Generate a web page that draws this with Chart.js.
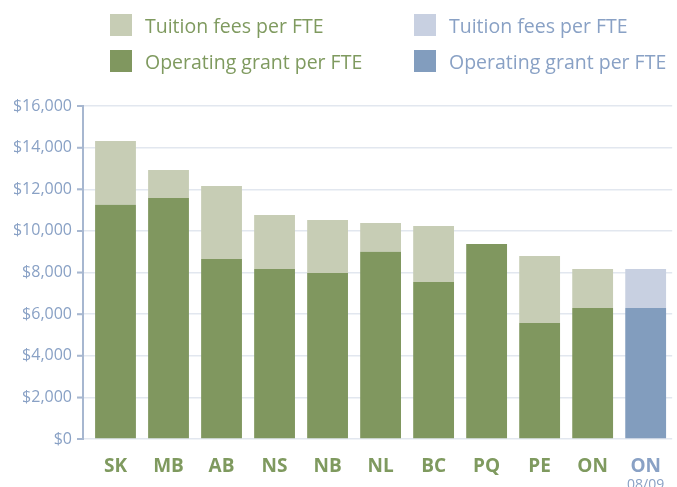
<!DOCTYPE html>
<html>
<head>
<meta charset="utf-8">
<script src="https://cdn.jsdelivr.net/npm/chart.js@4/dist/chart.umd.min.js"></script>
<style>
  html, body { margin: 0; padding: 0; background: #fff; }
  #wrap { position: relative; width: 677px; height: 487px; overflow: hidden; }
  #chart { position: absolute; left: 0; top: 0; }
  #legend {
    position: absolute; left: 110px; top: 14px;
    display: grid; grid-template-columns: 304px auto; row-gap: 14px;
    font-family: 'Open Sans', sans-serif; font-size: 19.5px;
  }
  .item { display: flex; align-items: center; height: 22px; white-space: nowrap; }
  .box { width: 22px; height: 22px; margin-right: 13px; flex: none; }
</style>
</head>
<body>
<div id="wrap">
  <canvas id="chart" width="677" height="487"></canvas>
  <div id="legend"></div>
</div>
<script>
// Data
const provinces = ['SK', 'MB', 'AB', 'NS', 'NB', 'NL', 'BC', 'PQ', 'PE', 'ON', 'ON'];
const lastNote = '08/09';
const grantPerFte   = [11250, 11580, 8650, 8170, 7980, 9000, 7540, 9370, 5570, 6300, 6300];
const tuitionPerFte = [3070, 1350, 3510, 2590, 2540, 1380, 2700, 0, 3220, 1870, 1870];
const yMin = 0, yMax = 16000, yStep = 2000;

const GREEN = '#80975f', GREEN_LIGHT = '#c7cdb5';
const BLUE = '#829dbe', BLUE_LIGHT = '#c8d0e1';
const GREEN_TEXT = '#7f9a5f', BLUE_TEXT = '#89a1c5';
const AXIS = '#a7b7d0', GRID = '#e2e7ef';

const lastIdx = provinces.length - 1;
const onlyGreen = arr => arr.map((v, i) => i === lastIdx ? null : v);
const onlyBlue = arr => arr.map((v, i) => i === lastIdx ? v : null);

const datasets = [
  { label: 'Operating grant per FTE', data: onlyGreen(grantPerFte), backgroundColor: GREEN, textColor: GREEN_TEXT },
  { label: 'Tuition fees per FTE', data: onlyGreen(tuitionPerFte), backgroundColor: GREEN_LIGHT, textColor: GREEN_TEXT },
  { label: 'Operating grant per FTE', data: onlyBlue(grantPerFte), backgroundColor: BLUE, textColor: BLUE_TEXT },
  { label: 'Tuition fees per FTE', data: onlyBlue(tuitionPerFte), backgroundColor: BLUE_LIGHT, textColor: BLUE_TEXT }
];

// HTML legend: tuition row on top, grant row below, green then blue
const legendEl = document.getElementById('legend');
[1, 3, 0, 2].forEach(i => {
  const ds = datasets[i];
  const item = document.createElement('div');
  item.className = 'item';
  item.innerHTML = `<span class="box" style="background:${ds.backgroundColor}"></span><span style="color:${ds.textColor}">${ds.label}</span>`;
  legendEl.appendChild(item);
});

// y axis line sits a little left of the first bar, with short tick marks
const axisPlugin = {
  id: 'axisLine',
  afterDraw(chart) {
    const { ctx, chartArea, scales } = chart;
    const y = scales.y;
    const x0 = chartArea.left - 6;
    ctx.save();
    ctx.strokeStyle = AXIS;
    ctx.lineWidth = 2;
    ctx.beginPath();
    ctx.moveTo(x0, y.getPixelForValue(yMax) - 1);
    ctx.lineTo(x0, y.getPixelForValue(yMin) + 1);
    y.ticks.forEach(t => {
      const py = y.getPixelForValue(t.value);
      ctx.moveTo(x0 - 6, py);
      ctx.lineTo(x0, py);
    });
    ctx.stroke();
    // second line of the last category label
    ctx.fillStyle = BLUE_TEXT;
    ctx.font = '14px "Open Sans", sans-serif';
    ctx.textAlign = 'center';
    ctx.textBaseline = 'top';
    ctx.fillText(lastNote, scales.x.getPixelForValue(lastIdx), 478);
    ctx.restore();
  }
};

new Chart(document.getElementById('chart'), {
  type: 'bar',
  data: { labels: provinces, datasets: datasets },
  options: {
    responsive: false,
    animation: false,
    layout: { padding: { top: 106, right: 1, left: 0, bottom: 0 } },
    datasets: { bar: { barPercentage: 0.77, categoryPercentage: 1 } },
    plugins: { legend: { display: false }, tooltip: { enabled: false } },
    scales: {
      x: {
        stacked: true,
        grid: { display: false, drawTicks: false },
        border: { display: false },
        ticks: {
          padding: 16,
          font: { family: "'Open Sans', sans-serif", size: 19, weight: 'bold' },
          color: ctx => ctx.index === lastIdx ? BLUE_TEXT : GREEN_TEXT
        },
        afterFit: s => { s.height = 48; }
      },
      y: {
        stacked: true,
        min: yMin,
        max: yMax,
        border: { display: false },
        grid: { color: GRID, lineWidth: 1.5, tickLength: 12, tickColor: GRID },
        ticks: {
          stepSize: yStep,
          padding: 5,
          font: { family: "'Open Sans', sans-serif", size: 16 },
          color: BLUE_TEXT,
          callback: v => '$' + v.toLocaleString('en-US')
        },
        afterFit: s => { s.width = 89; }
      }
    }
  },
  plugins: [axisPlugin]
});
</script>
</body>
</html>
